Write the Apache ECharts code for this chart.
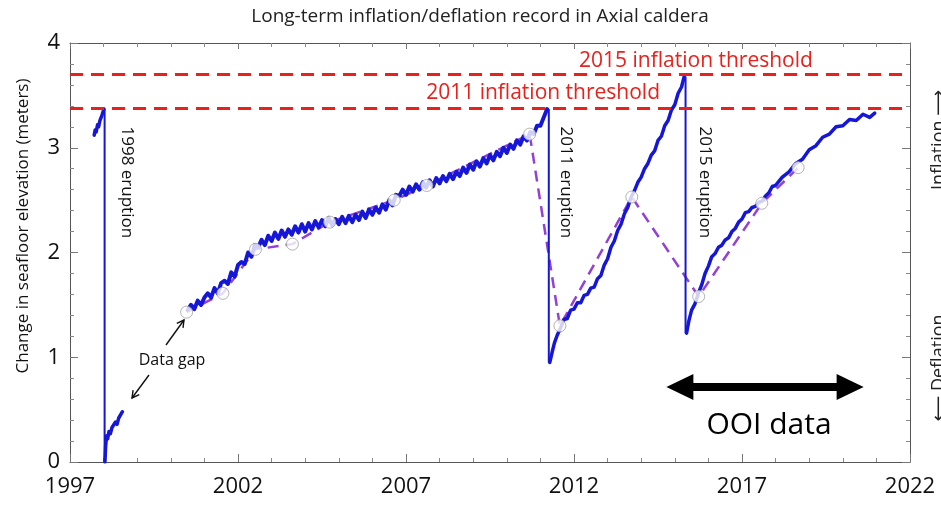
<!DOCTYPE html>
<html><head><meta charset="utf-8">
<script src="https://cdn.jsdelivr.net/npm/echarts@6/dist/echarts.min.js"></script>
<style>html,body{margin:0;padding:0;background:#fff}#c{width:941px;height:506px}</style>
</head><body><div id="c"></div>
<script>
// ---------- DATA ----------
const titleText = 'Long-term inflation/deflation record in Axial caldera';
const yAxisTitle = 'Change in seafloor elevation (meters)';
const xTickYears = [1997, 2002, 2007, 2012, 2017, 2022];

// blue pressure-record segments (year, meters)
const seg1997Years = [1997.72,1997.75,1997.78,1997.82,1997.85,1997.89,1997.92,1997.95,1997.98,1998.01];
const seg1997Vals  = [3.12,3.17,3.15,3.22,3.20,3.26,3.25,3.31,3.30,3.37];

const seg1998Years = [1998.04,1998.06,1998.09,1998.12,1998.16,1998.20,1998.25,1998.30,1998.35,1998.40,1998.45,1998.50,1998.56];
const seg1998Vals  = [0.00,0.15,0.25,0.22,0.29,0.27,0.33,0.32,0.38,0.36,0.42,0.41,0.48];

const seg2000Years = [2000.5,2000.6,2000.7,2000.8,2000.9,2001.0,2001.1,2001.2,2001.3,2001.4,2001.5,2001.6,2001.7,2001.8,2001.9,
  2002.0,2002.1,2002.2,2002.3,2002.4,2002.5,2002.6,2002.7,2002.8,2002.9,2003.0,2003.1,2003.2,2003.3,2003.4,2003.5,2003.6,2003.7,2003.8,2003.9,
  2004.0,2004.1,2004.2,2004.3,2004.4,2004.5,2004.6,2004.7,2004.8,2004.9,2005.0,2005.1,2005.2,2005.3,2005.4,2005.5,2005.6,2005.7,2005.8,2005.9,
  2006.0,2006.1,2006.2,2006.3,2006.4,2006.5,2006.6,2006.7,2006.8,2006.9,2007.0,2007.1,2007.2,2007.3,2007.4,2007.5,2007.6,2007.7,2007.8,2007.9,
  2008.0,2008.1,2008.2,2008.3,2008.4,2008.5,2008.6,2008.7,2008.8,2008.9,2009.0,2009.1,2009.2,2009.3,2009.4,2009.5,2009.6,2009.7,2009.8,2009.9,
  2010.0,2010.1,2010.2,2010.3,2010.4,2010.5,2010.6,2010.7,2010.8,2010.9,2011.0,2011.1,2011.15,2011.2];
const seg2000Vals = [1.45,1.50,1.46,1.54,1.50,1.57,1.61,1.57,1.66,1.61,1.71,1.73,1.70,1.81,1.77,
  1.88,1.91,1.89,2.00,1.96,2.07,2.05,2.12,2.07,2.16,2.11,2.19,2.13,2.21,2.15,2.22,2.17,2.25,2.19,2.27,
  2.20,2.28,2.22,2.30,2.24,2.31,2.25,2.33,2.26,2.32,2.27,2.34,2.28,2.35,2.29,2.36,2.31,2.39,2.33,2.41,
  2.36,2.43,2.38,2.46,2.41,2.50,2.45,2.55,2.54,2.60,2.55,2.63,2.58,2.65,2.60,2.67,2.62,2.69,2.63,2.71,
  2.66,2.73,2.68,2.75,2.70,2.77,2.73,2.81,2.76,2.84,2.79,2.87,2.82,2.90,2.85,2.93,2.88,2.96,2.92,3.00,
  2.95,3.03,2.99,3.07,3.03,3.11,3.07,3.15,3.13,3.21,3.21,3.29,3.30,3.37];

const seg2011Years = [2011.28,2011.35,2011.42,2011.5,2011.6,2011.7,2011.8,2011.9,2012.0,2012.1,2012.2,2012.3,2012.4,2012.5,2012.6,2012.7,2012.8,2012.9,
  2013.0,2013.1,2013.2,2013.3,2013.4,2013.5,2013.6,2013.7,2013.8,2013.9,2014.0,2014.1,2014.2,2014.3,2014.4,2014.5,2014.6,2014.7,2014.8,2014.9,
  2015.0,2015.1,2015.2,2015.28];
const seg2011Vals = [0.95,1.05,1.14,1.21,1.28,1.36,1.37,1.45,1.46,1.52,1.52,1.59,1.60,1.66,1.67,1.75,1.78,1.88,
  1.94,2.05,2.11,2.21,2.27,2.37,2.43,2.53,2.59,2.67,2.72,2.80,2.85,2.93,2.97,3.07,3.11,3.21,3.26,3.36,
  3.41,3.52,3.58,3.68];

const seg2015Years = [2015.35,2015.42,2015.5,2015.6,2015.7,2015.8,2015.9,2016.0,2016.1,2016.2,2016.3,2016.4,2016.5,2016.6,2016.7,2016.8,2016.9,
  2017.0,2017.1,2017.2,2017.3,2017.4,2017.5,2017.6,2017.7,2017.8,2017.9,2018.0,2018.2,2018.4,2018.6,2018.8,2019.0,2019.2,2019.4,2019.6,
  2019.8,2020.0,2020.2,2020.4,2020.6,2020.8,2020.95];
const seg2015Vals = [1.23,1.35,1.45,1.51,1.61,1.69,1.80,1.87,1.96,1.99,2.05,2.07,2.12,2.14,2.20,2.23,2.29,
  2.32,2.38,2.39,2.43,2.44,2.48,2.49,2.54,2.57,2.63,2.64,2.72,2.77,2.85,2.89,2.98,3.02,3.10,3.13,
  3.20,3.21,3.27,3.26,3.32,3.29,3.33];

// eruption drops
const eruptionYears = [1998.03, 2011.25, 2015.32];
const eruptionTop    = [3.37, 3.37, 3.68];
const eruptionBottom = [0.00, 0.95, 1.23];
const eruptionLabels = ['1998 eruption', '2011 eruption', '2015 eruption'];

// purple dashed model with circle markers
const modelYears = [2000.47,2001.55,2002.52,2003.62,2004.73,2006.65,2007.62,2010.68,2011.58,2013.72,2015.71,2017.59,2018.67];
const modelVals  = [1.43,1.61,2.03,2.08,2.29,2.50,2.64,3.13,1.30,2.53,1.58,2.47,2.81];

// thresholds
const thresholdVals   = [3.38, 3.70];
const thresholdLabels = ['2011 inflation threshold', '2015 inflation threshold'];

// ---------- CHART ----------
const FONT = "'Open Sans','DejaVu Sans',sans-serif";
const BLUE = '#1616d6';
const zip = (a, b) => a.map((v, i) => [v, b[i]]);

const chart = echarts.init(document.getElementById('c'), null, {renderer: 'canvas'});

const blueSeg = (ys, vs, w) => ({
  type: 'line', data: zip(ys, vs), showSymbol: false, symbol: 'none', z: 3,
  lineStyle: {color: BLUE, width: w || 3.5, join: 'round', cap: 'round'}, silent: true
});

const series = [
  {
    type: 'line', data: zip(modelYears, modelVals), symbol: 'none', z: 2, silent: true,
    lineStyle: {color: '#9440d4', width: 2.5, type: [11, 7]}
  },
  blueSeg(seg1997Years, seg1997Vals),
  blueSeg(seg1998Years, seg1998Vals),
  blueSeg(seg2000Years, seg2000Vals, 4),
  blueSeg(seg2011Years, seg2011Vals),
  blueSeg(seg2015Years, seg2015Vals),
];
eruptionYears.forEach((yr, i) => {
  series.push({
    type: 'line', data: [[yr, eruptionTop[i]], [yr, eruptionBottom[i]]], symbol: 'none', z: 3, silent: true,
    lineStyle: {color: BLUE, width: 2}
  });
});
series.push({
  type: 'scatter', data: zip(modelYears, modelVals), symbol: 'circle', symbolSize: 12, z: 4, silent: true,
  itemStyle: {color: '#fff', borderColor: '#a0a0a0', borderWidth: 1}
});
series.push({
  type: 'line', data: [], z: 1, silent: true,
  markLine: {
    silent: true, symbol: 'none', label: {show: false},
    lineStyle: {color: '#e8211c', width: 3, type: [13, 8]},
    data: thresholdVals.map(v => ({yAxis: v}))
  }
});

const axisCommon = {
  axisLine: {show: true, onZero: false, lineStyle: {color: '#555', width: 1}},
  axisTick: {show: true, inside: true, length: 8, lineStyle: {color: '#777'}},
  minorTick: {show: true, splitNumber: 5, length: 4, lineStyle: {color: '#888'}},
  splitLine: {show: false}, minorSplitLine: {show: false}
};

const option = {
  animation: false,
  backgroundColor: '#fff',
  grid: {left: 70, right: 31, top: 43, bottom: 44, containLabel: false},
  xAxis: [
    Object.assign({type: 'value', min: xTickYears[0], max: xTickYears[xTickYears.length - 1], interval: 5, position: 'bottom',
      axisLabel: {fontSize: 22, color: '#111', margin: 14, fontFamily: FONT, formatter: v => String(v)}}, axisCommon),
    Object.assign({type: 'value', min: xTickYears[0], max: xTickYears[xTickYears.length - 1], interval: 5, position: 'top',
      axisLabel: {show: false}}, axisCommon, {axisTick: {show: true, inside: true, length: 6, lineStyle: {color: '#777'}}})
  ],
  yAxis: [
    Object.assign({type: 'value', min: 0, max: 4, interval: 1, position: 'left',
      axisLabel: {fontSize: 22, color: '#111', margin: 10, fontFamily: FONT}}, axisCommon),
    Object.assign({type: 'value', min: 0, max: 4, interval: 1, position: 'right',
      axisLabel: {show: false}}, axisCommon)
  ],
  series: series,
  graphic: []
};
chart.setOption(option);

// ---------- annotations (placed through the axes) ----------
const px = (x, y) => chart.convertToPixel({xAxisIndex: 0, yAxisIndex: 0}, [x, y]);
const g = [];
g.push({type: 'text', x: 480, y: 17, style: {text: titleText, font: "19px " + FONT, fill: '#222', align: 'center', verticalAlign: 'middle'}});
g.push({type: 'text', x: 23, y: 226, rotation: Math.PI / 2,
  style: {text: yAxisTitle, font: "17px " + FONT, fill: '#111', align: 'center', verticalAlign: 'middle'}});
g.push({type: 'text', x: 939, y: 140, rotation: Math.PI / 2,
  style: {text: 'Inflation \u27F6', font: "18px " + FONT, fill: '#222', align: 'center', verticalAlign: 'middle'}});
g.push({type: 'text', x: 939, y: 368, rotation: Math.PI / 2,
  style: {text: '\u27F5 Deflation', font: "18px " + FONT, fill: '#222', align: 'center', verticalAlign: 'middle'}});

// threshold labels
const t1 = px(2015.63, thresholdVals[1]);
g.push({type: 'text', x: t1[0], y: t1[1] - 13, style: {text: thresholdLabels[1], font: "21px " + FONT, fill: '#e8211c', align: 'center', verticalAlign: 'middle'}});
const t0 = px(2011.08, thresholdVals[0]);
g.push({type: 'text', x: t0[0], y: t0[1] - 15, style: {text: thresholdLabels[0], font: "21px " + FONT, fill: '#e8211c', align: 'center', verticalAlign: 'middle'}});

// eruption labels
const eruptLabelOffsets = [22, 17, 19];
eruptionYears.forEach((yr, i) => {
  const p = px(yr, 2.67);
  g.push({type: 'text', x: p[0] + eruptLabelOffsets[i], y: p[1], rotation: -Math.PI / 2,
    style: {text: eruptionLabels[i], font: "17px " + FONT, fill: '#111', align: 'center', verticalAlign: 'middle'}});
});

// Data gap label and arrows
g.push({type: 'text', x: 172, y: 360, style: {text: 'Data gap', font: "16px " + FONT, fill: '#111', align: 'center', verticalAlign: 'middle'}});
function openArrow(x1, y1, x2, y2) {
  const a = Math.atan2(y2 - y1, x2 - x1), L = 8, s = 0.5;
  g.push({type: 'polyline', shape: {points: [[x1, y1], [x2, y2]]}, style: {stroke: '#111', lineWidth: 1.4, fill: null}});
  g.push({type: 'polyline', shape: {points: [
    [x2 - L * Math.cos(a - s), y2 - L * Math.sin(a - s)], [x2, y2], [x2 - L * Math.cos(a + s), y2 - L * Math.sin(a + s)]]},
    style: {stroke: '#111', lineWidth: 1.4, fill: null}});
}
openArrow(166, 345, 184, 320);
openArrow(149, 375, 132, 398);

// OOI data double arrow
const oL = px(2014.75, 0.715), oR = px(2020.62, 0.715);
const ay = oL[1];
g.push({type: 'rect', shape: {x: oL[0] + 20, y: ay - 4, width: oR[0] - oL[0] - 40, height: 8}, style: {fill: '#000'}});
g.push({type: 'polygon', shape: {points: [[oL[0], ay], [oL[0] + 27, ay - 13], [oL[0] + 27, ay + 13]]}, style: {fill: '#000'}});
g.push({type: 'polygon', shape: {points: [[oR[0], ay], [oR[0] - 27, ay - 13], [oR[0] - 27, ay + 13]]}, style: {fill: '#000'}});
g.push({type: 'text', x: (oL[0] + oR[0]) / 2 + 4, y: 425, style: {text: 'OOI data', font: "30px " + FONT, fill: '#000', align: 'center', verticalAlign: 'middle'}});

chart.setOption({graphic: g});
</script>
</body></html>
